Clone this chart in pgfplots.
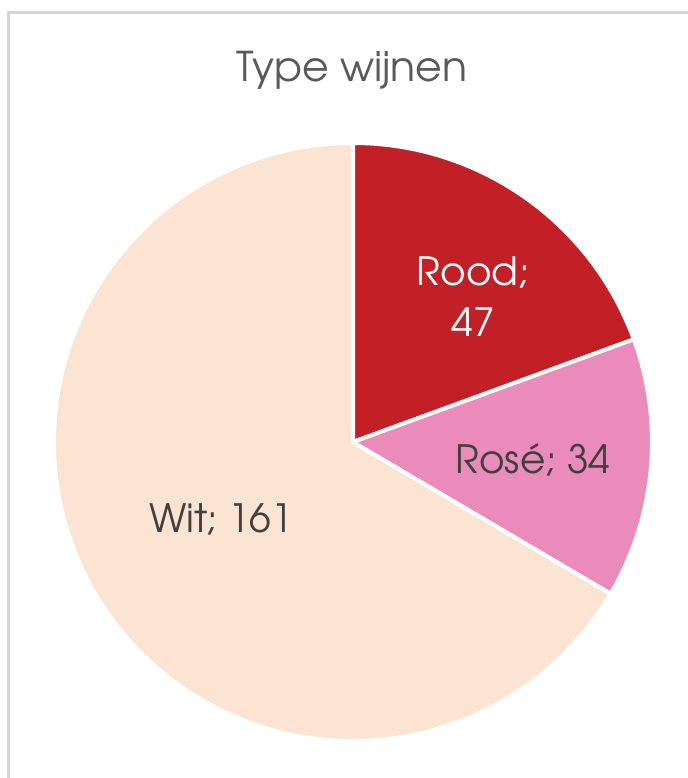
\documentclass[border=0pt]{standalone}
\usepackage{pgfplots}
\pgfplotsset{compat=1.18}
\usepackage{pgfplotstable}
\usepackage{fontspec}
\setmainfont{TeX Gyre Adventor}
\definecolor{rood}{HTML}{C21F26}
\definecolor{rose}{HTML}{EA8BBA}
\definecolor{wit}{HTML}{FBE4D2}
\definecolor{titlegrey}{HTML}{595959}
\definecolor{labelgrey}{HTML}{404040}
\definecolor{bordergrey}{HTML}{D4D4D4}
\pgfplotstableread{
type value
Rood 47
Rose 34
Wit 161
}\wijnen
\begin{document}
\begin{tikzpicture}
\pgfplotstablegetelem{0}{value}\of\wijnen \pgfmathsetmacro\vA{\pgfplotsretval}
\pgfplotstablegetelem{1}{value}\of\wijnen \pgfmathsetmacro\vB{\pgfplotsretval}
\pgfplotstablegetelem{2}{value}\of\wijnen \pgfmathsetmacro\vC{\pgfplotsretval}
\pgfmathsetmacro\tot{\vA+\vB+\vC}
\pgfmathsetmacro\aA{90-360*(\vA/\tot)}
\pgfmathsetmacro\aB{\aA-360*(\vB/\tot)}
\pgfmathsetmacro\aC{\aB-360*(\vC/\tot)}
\begin{axis}[name=ax, hide axis, scale only axis, width=344pt, height=389pt,
  xmin=0, xmax=688, ymin=0, ymax=778, clip=false]
\draw[bordergrey, line width=1.5pt] (axis cs:8,0) -- (axis cs:8,765) -- (axis cs:688,765);
\filldraw[fill=wit, draw=white, line width=2pt, line join=round]
  (axis cs:353,336) -- ++(\aB:149.5pt) arc[start angle=\aB, end angle=\aC, radius=149.5pt] -- cycle;
\filldraw[fill=rood, draw=white, line width=2pt, line join=round]
  (axis cs:353,336) -- ++(90:149.5pt) arc[start angle=90, end angle=\aA, radius=149.5pt] -- cycle;
\filldraw[fill=rose, draw=white, line width=2pt, line join=round]
  (axis cs:353,336) -- ++(\aA:149.5pt) arc[start angle=\aA, end angle=\aB, radius=149.5pt] -- cycle;
\node[titlegrey, font=\fontsize{20.5pt}{24pt}\selectfont] at (axis cs:352,708) {Type wijnen};
\node[white, font=\fontsize{19.5pt}{23pt}\selectfont] at (axis cs:473,506) {Rood;};
\node[white, font=\fontsize{19.5pt}{23pt}\selectfont] at (axis cs:473,456) {47};
\node[labelgrey, font=\fontsize{19.5pt}{23pt}\selectfont] at (axis cs:533,318) {Rosé; 34};
\node[labelgrey, font=\fontsize{19.5pt}{23pt}\selectfont] at (axis cs:221,259) {Wit; 161};
\end{axis}
\pgfresetboundingbox
\useasboundingbox (ax.south west) rectangle (ax.north east);
\end{tikzpicture}
\end{document}
